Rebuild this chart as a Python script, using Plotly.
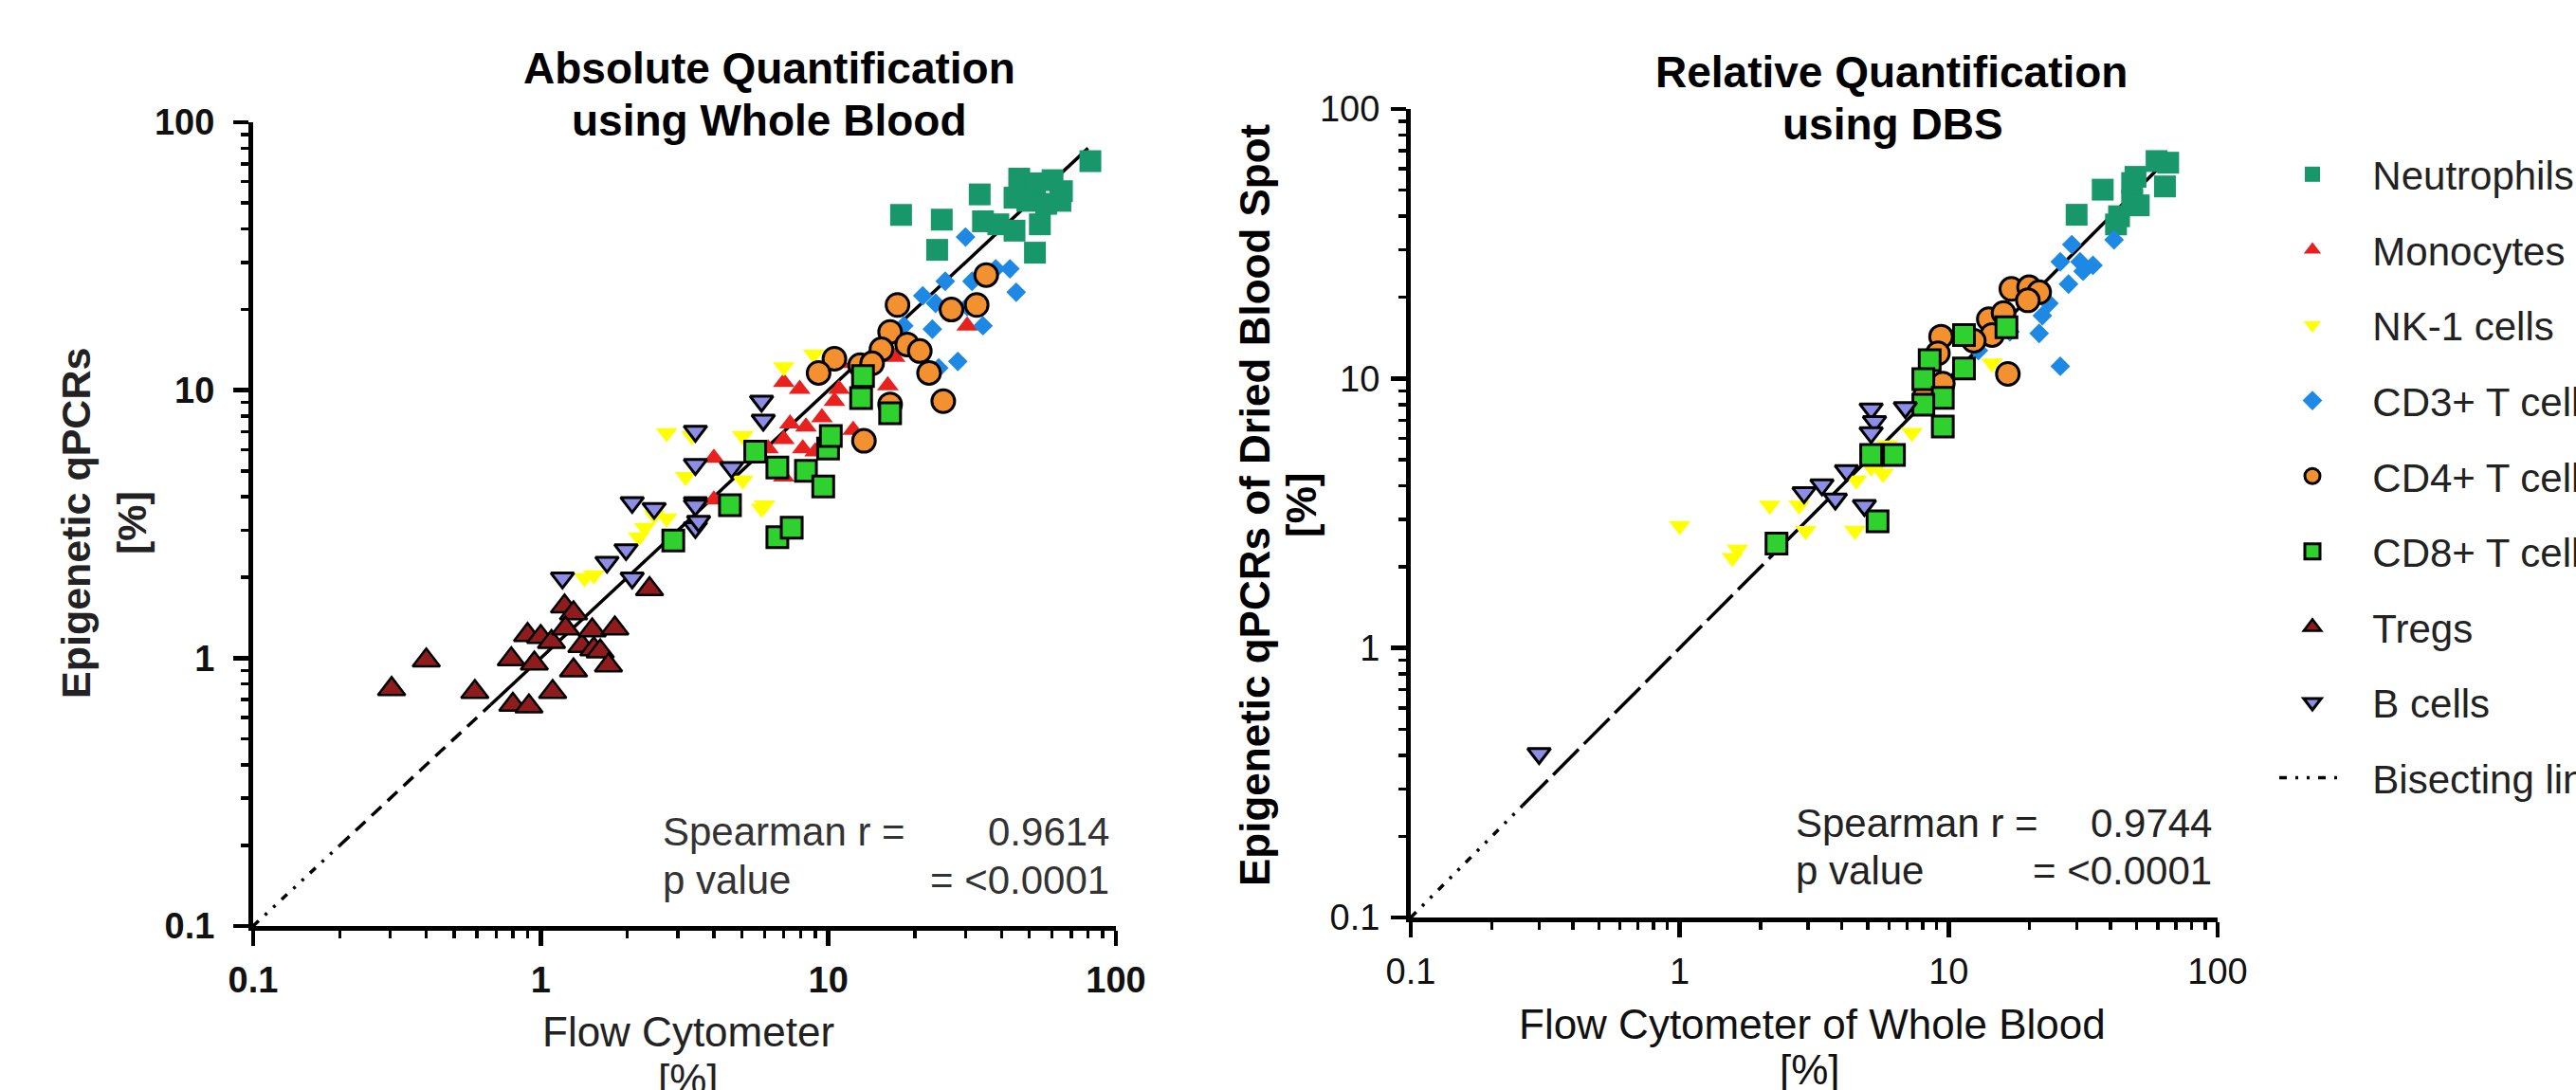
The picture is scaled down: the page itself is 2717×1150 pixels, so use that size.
import plotly.graph_objects as go

W, H = 2717, 1150

# ---------------- data: Whole Blood (left panel) ----------------
neut_wb_x = [17.9, 33.6, 24.8, 23.9, 34.5, 39.0, 44.4, 54.4, 52.3, 81.5, 46.1, 52.3, 60.2, 64.9, 49.2, 57.2, 64.1, 44.4]
neut_wb_y = [45.1, 53.8, 43.3, 33.4, 42.7, 41.6, 39.4, 41.6, 32.6, 71.6, 61.6, 59.2, 60.8, 55.3, 50.9, 49.6, 50.9, 52.3]
mono_wb_x = [7.0, 7.95, 11.0, 10.9, 17.0, 30.4, 16.1, 7.36, 8.36, 9.5, 7.0, 6.17, 8.15, 9.0, 12.2, 4.0, 7.0, 4.0, 10.5]
mono_wb_y = [10.7, 10.1, 12.6, 10.1, 13.3, 17.4, 10.4, 7.5, 7.3, 7.9, 6.56, 6.05, 6.05, 5.9, 7.1, 5.58, 4.75, 3.9, 9.1]
nk_wb_x = [8.9, 7.0, 2.74, 3.36, 5.04, 3.19, 5.04, 5.86, 2.74, 2.30, 2.48, 1.42, 1.53, 6.0, 2.19]
nk_wb_y = [13.6, 12.2, 6.93, 6.74, 6.74, 4.75, 4.61, 3.62, 3.33, 3.07, 3.42, 1.99, 2.04, 3.72, 2.83]
cd3_wb_x = [30.0, 42.8, 38.2, 45.0, 25.5, 31.6, 21.3, 23.6, 30.4, 34.5, 18.3, 23.0, 28.2, 24.2]
cd3_wb_y = [37.3, 28.4, 28.4, 23.2, 25.5, 25.5, 22.5, 21.1, 20.5, 17.4, 17.4, 16.9, 12.8, 12.1]
cd4_wb_x = [17.4, 35.4, 26.8, 32.8, 16.4, 18.8, 15.3, 20.8, 12.9, 10.5, 9.25, 14.2, 22.4, 25.1, 16.4, 13.3]
cd4_wb_y = [20.8, 26.9, 20.0, 20.8, 16.5, 14.8, 14.2, 14.0, 12.4, 13.1, 11.6, 12.6, 11.6, 9.1, 8.85, 6.47]
cd8_wb_x = [13.2, 13.0, 16.4, 9.98, 10.2, 6.65, 8.36, 9.6, 6.65, 7.46, 4.55, 2.89, 5.57]
cd8_wb_y = [11.3, 9.35, 8.2, 6.05, 6.74, 5.14, 5.0, 4.37, 2.83, 3.07, 3.72, 2.75, 5.9]
treg_wb_x = [0.303, 0.40, 0.59, 0.79, 0.80, 0.91, 0.90, 1.0, 1.09, 0.95, 1.21, 1.30, 1.22, 1.10, 1.30, 1.39, 1.51, 1.53, 1.61, 1.81, 1.72, 2.39]
treg_wb_y = [0.767, 0.98, 0.748, 0.99, 0.67, 0.66, 1.22, 1.2, 1.15, 0.955, 1.56, 1.47, 1.29, 0.748, 0.90, 1.11, 1.27, 1.08, 1.06, 1.29, 0.94, 1.81]
bcell_wb_x = [5.86, 5.94, 3.45, 3.45, 4.61, 3.45, 3.45, 2.08, 2.48, 3.45, 3.54, 1.70, 1.98, 1.19, 2.08]
bcell_wb_y = [9.1, 7.73, 7.03, 5.28, 5.14, 3.81, 3.07, 3.81, 3.62, 3.72, 3.24, 2.28, 2.54, 1.99, 1.99]

# ---------------- data: Dried Blood Spot (right panel) ----------------
neut_dbs_x = [59.3, 65.5, 37.4, 48.1, 48.1, 63.7, 29.9, 43.0, 50.9, 41.9, 49.5]
neut_dbs_y = [64.1, 63.2, 50.2, 53.1, 45.7, 51.6, 40.5, 40.0, 43.9, 37.3, 56.0]
cd3_dbs_x = [41.2, 28.7, 26.0, 30.8, 34.4, 31.6, 27.9, 23.6, 22.3, 21.7, 16.9, 12.9, 26.0]
cd3_dbs_y = [32.7, 31.4, 27.1, 27.1, 26.3, 25.0, 22.4, 19.0, 17.1, 14.7, 14.9, 12.7, 11.1]
cd4_dbs_x = [17.1, 19.9, 21.7, 19.7, 14.1, 16.0, 14.5, 12.4, 9.37, 9.12, 9.51, 8.16, 16.6]
cd4_dbs_y = [21.5, 21.8, 20.9, 19.5, 16.6, 17.5, 14.5, 13.8, 14.3, 12.4, 9.57, 8.6, 10.4]
cd8_dbs_x = [11.4, 16.4, 8.5, 11.4, 8.05, 9.51, 8.05, 9.51, 6.26, 5.15, 5.44, 2.29]
cd8_dbs_y = [14.5, 15.5, 11.7, 10.9, 9.95, 8.47, 8.0, 6.64, 5.2, 5.2, 2.95, 2.44]
nk_dbs_x = [1.0, 1.64, 1.57, 2.16, 2.78, 2.94, 4.48, 4.54, 5.15, 5.6, 5.92, 7.3, 14.5, 5.7]
nk_dbs_y = [2.84, 2.32, 2.16, 3.38, 3.38, 2.72, 2.72, 4.19, 4.68, 4.93, 5.65, 6.29, 11.4, 4.43]
bcell_dbs_x = [5.15, 5.3, 5.15, 6.9, 4.17, 3.38, 2.9, 3.79, 4.86, 0.30]
bcell_dbs_y = [7.71, 6.92, 6.29, 7.8, 4.55, 4.03, 3.77, 3.57, 3.38, 0.406]

# bisecting line (y = x) pieces, drawn with different dash styles
bis_wb_dot = [0.1, 0.2]
bis_wb_dash = [0.2, 0.67]
bis_wb_solid = [0.67, 80]
bis_dbs_dot = [0.1, 0.26]
bis_dbs_dash = [0.26, 2.29]
bis_dbs_solid = [2.29, 65]

major_ticks = [0.1, 1, 10, 100]
major_text = ["0.1", "1", "10", "100"]
minor_ticks = [0.2, 0.3, 0.4, 0.5, 0.6, 0.7, 0.8, 0.9, 2, 3, 4, 5, 6, 7, 8, 9, 20, 30, 40, 50, 60, 70, 80, 90]

FONT = "Arial, Liberation Sans, sans-serif"

styles = {
    "Neutrophils": dict(symbol="square", size=23, color="#17976A", line=dict(width=0)),
    "Monocytes": dict(symbol="triangle-up", size=20, color="#E8201E", line=dict(width=0)),
    "NK-1 cells": dict(symbol="triangle-down", size=20, color="#FFFF00", line=dict(width=0)),
    "CD3+ T cells": dict(symbol="diamond", size=16, color="#1E88E5", line=dict(width=0)),
    "CD4+ T cells": dict(symbol="circle", size=24, color="#F39130", line=dict(width=3, color="black")),
    "CD8+ T cells": dict(symbol="square", size=22, color="#2FD12F", line=dict(width=3, color="black")),
    "Tregs": dict(symbol="triangle-up", size=25, color="#8E1C1C", line=dict(width=2.5, color="black")),
    "B cells": dict(symbol="triangle-down", size=21, color="#8D8DE6", line=dict(width=3, color="black")),
}

wb = [
    ("Neutrophils", neut_wb_x, neut_wb_y),
    ("Monocytes", mono_wb_x, mono_wb_y),
    ("NK-1 cells", nk_wb_x, nk_wb_y),
    ("CD3+ T cells", cd3_wb_x, cd3_wb_y),
    ("CD4+ T cells", cd4_wb_x, cd4_wb_y),
    ("CD8+ T cells", cd8_wb_x, cd8_wb_y),
    ("Tregs", treg_wb_x, treg_wb_y),
    ("B cells", bcell_wb_x, bcell_wb_y),
]
dbs = [
    ("Neutrophils", neut_dbs_x, neut_dbs_y),
    ("NK-1 cells", nk_dbs_x, nk_dbs_y),
    ("CD3+ T cells", cd3_dbs_x, cd3_dbs_y),
    ("CD4+ T cells", cd4_dbs_x, cd4_dbs_y),
    ("CD8+ T cells", cd8_dbs_x, cd8_dbs_y),
    ("B cells", bcell_dbs_x, bcell_dbs_y),
]

fig = go.Figure()
NB = "\u00a0\u00a0"

LW = 3.5
# lines (drawn first, under markers)
for (seg, dash, xa, ya, leg) in [
    (bis_wb_dot, "8px,9px,3px,9px,3px,9px", "x", "y", True),
    (bis_wb_dash, "14px,9px", "x", "y", False),
    (bis_wb_solid, "solid", "x", "y", False),
    (bis_dbs_dot, "8px,9px,3px,9px,3px,9px", "x2", "y2", False),
    (bis_dbs_dash, "38px,8px", "x2", "y2", False),
    (bis_dbs_solid, "solid", "x2", "y2", False),
]:
    fig.add_trace(go.Scatter(
        x=seg, y=seg, mode="lines", xaxis=xa, yaxis=ya,
        line=dict(color="black", width=LW, dash=dash),
        name=NB + "Bisecting line", showlegend=leg,
        legendgroup="bis", legendrank=1000, hoverinfo="skip"))

for i, (name, xs, ys) in enumerate(wb):
    fig.add_trace(go.Scatter(
        x=xs, y=ys, mode="markers", xaxis="x", yaxis="y",
        marker=styles[name], name=NB + name, legendgroup=name,
        legendrank=i + 1, showlegend=True))

for name, xs, ys in dbs:
    fig.add_trace(go.Scatter(
        x=xs, y=ys, mode="markers", xaxis="x2", yaxis="y2",
        marker=styles[name], name=NB + name, legendgroup=name,
        showlegend=False))


def axis_common(bold, domain, anchor, standoff):
    return dict(
        type="log", range=[-1, 2], domain=domain, anchor=anchor,
        showline=True, linecolor="black", linewidth=5, mirror=False,
        showgrid=False, zeroline=False,
        tickmode="array", tickvals=major_ticks, ticktext=major_text,
        ticks="outside", ticklen=16, tickwidth=4.5, tickcolor="black",
        ticklabelstandoff=standoff,
        tickfont=dict(family=FONT, size=38, color="#111",
                      weight="bold" if bold else "normal"),
        minor=dict(tickmode="array", tickvals=minor_ticks, ticks="outside",
                   ticklen=8, tickwidth=3.5, tickcolor="black", showgrid=False),
        fixedrange=True,
    )


fig.update_layout(
    width=W, height=H,
    margin=dict(l=0, r=0, t=0, b=0, autoexpand=False),
    paper_bgcolor="white", plot_bgcolor="white",
    showlegend=True,
    xaxis=axis_common(True, [267 / W, 1177 / W], "y", 3),
    yaxis=axis_common(True, [1 - 977 / H, 1 - 129 / H], "x", 12),
    xaxis2=axis_common(False, [1488 / W, 2339 / W], "y2", 3),
    yaxis2=axis_common(False, [1 - 968 / H, 1 - 115 / H], "x2", 4),
    legend=dict(x=2399 / W, xanchor="left", y=1 - 150 / H, yanchor="top",
                font=dict(family=FONT, size=42, color="#222"),
                itemwidth=70, tracegroupgap=22, bgcolor="rgba(0,0,0,0)",
                traceorder="grouped", itemclick=False, itemdoubleclick=False),
)


def ann(text, x, y, size, bold=False, xanchor="center", angle=0, color="#111"):
    fig.add_annotation(
        text=text, x=x / W, y=1 - y / H, xref="paper", yref="paper",
        showarrow=False, xanchor=xanchor, yanchor="middle", textangle=angle,
        font=dict(family=FONT, size=size, color=color,
                  weight="bold" if bold else "normal"))


# titles
ann("Absolute Quantification", 811, 72, 46, bold=True, color="black")
ann("using Whole Blood", 811, 127, 46, bold=True, color="black")
ann("Relative Quantification", 1995, 76, 46, bold=True, color="black")
ann("using DBS", 1996, 131, 46, bold=True, color="black")

# axis titles
ann("Flow Cytometer", 726, 1088, 44, color="#222")
ann("[%]", 726, 1138, 44, color="#222")
ann("Flow Cytometer of Whole Blood", 1911, 1080, 44, color="#111")
ann("[%]", 1909, 1128, 44, color="#111")
ann("Epigenetic qPCRs", 80, 552, 43, bold=True, angle=-90, color="#222")
ann("[%]", 139, 552, 43, bold=True, angle=-90, color="#222")
ann("Epigenetic qPCRs of Dried Blood Spot", 1323, 533, 44, bold=True, angle=-90, color="black")
ann("[%]", 1372, 533, 44, bold=True, angle=-90, color="black")

# statistics
ann("Spearman r =", 697, 877, 42, xanchor="left", color="#333")
ann("0.9614", 1172, 877, 42, xanchor="right", color="#333")
ann("p value", 697, 928, 42, xanchor="left", color="#333")
ann("= <0.0001", 1172, 928, 42, xanchor="right", color="#333")
ann("Spearman r =", 1892, 868, 42, xanchor="left", color="#222")
ann("0.9744", 2335, 868, 42, xanchor="right", color="#222")
ann("p value", 1892, 918, 42, xanchor="left", color="#222")
ann("= <0.0001", 2335, 918, 42, xanchor="right", color="#222")

fig.write_html("out.html", config={"displayModeBar": False, "staticPlot": True},
               post_script="document.body.style.margin='0';document.body.style.overflow='hidden';")
